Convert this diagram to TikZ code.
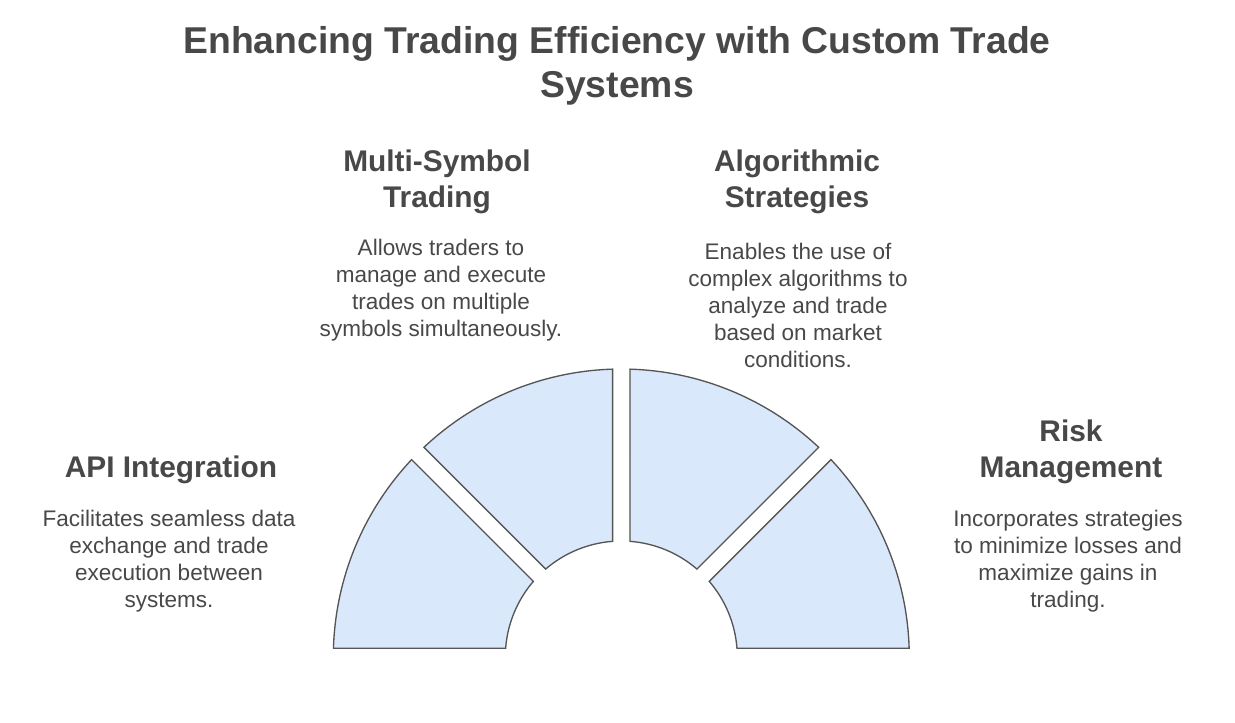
\documentclass[tikz,border=0pt]{standalone}
\usepackage{fontspec}
\setmainfont{Liberation Sans}
\usetikzlibrary{calc}
\definecolor{inkgray}{HTML}{484848}
\definecolor{segfill}{HTML}{DAE8FC}
\definecolor{segline}{HTML}{555555}
\tikzset{
	heading/.style={text=inkgray, font=\bfseries\fontsize{22.4}{27}\selectfont, align=center, inner sep=0pt},
	blurb/.style={text=inkgray, font=\fontsize{16.9}{20.25}\selectfont, align=center, inner sep=0pt},
	segment/.style={draw=segline, fill=segfill, line width=1pt, line join=miter},
}

\begin{document}
\begin{tikzpicture}[x=0.75pt, y=0.75pt]

\useasboundingbox (0,0) rectangle (1235,-722);

\node [text=inkgray, font=\bfseries\fontsize{28}{33}\selectfont, align=center, inner sep=0pt]
	(title) at (617,-66) {Enhancing Trading Efficiency with Custom Trade\\Systems};

% half ring, four pieces
\coordinate (ctr) at (621.3,-657);
\def\dout{1.73}
\def\din{4.3}
\foreach \a/\b in {0/45, 45/90, 90/135, 135/180}
	\draw [segment] ($(ctr)+(\a+\dout:216pt)$)
		arc [start angle=\a+\dout, end angle=\b-\dout, radius=216pt]
		-- ($(ctr)+(\b-\din:87pt)$)
		arc [start angle=\b-\din, end angle=\a+\din, radius=87pt] -- cycle;

\node [heading] (api) at (171,-470) {API Integration};
\node [blurb] (apitext) at (169,-561) {Facilitates seamless data\\exchange and trade\\execution between\\systems.};

\node [heading] (msym) at (437,-182) {Multi-Symbol\\Trading};
\node [blurb] (msymtext) at (441,-290) {Allows traders to\\manage and execute\\trades on multiple\\symbols simultaneously.};

\node [heading] (algo) at (797,-182) {Algorithmic\\Strategies};
\node [blurb] (algotext) at (798,-305) {Enables the use of\\complex algorithms to\\analyze and trade\\based on market\\conditions.};

\node [heading] (risk) at (1071,-452) {Risk\\Management};
\node [blurb] (risktext) at (1068,-561) {Incorporates strategies\\to minimize losses and\\maximize gains in\\trading.};

\end{tikzpicture}
\end{document}
